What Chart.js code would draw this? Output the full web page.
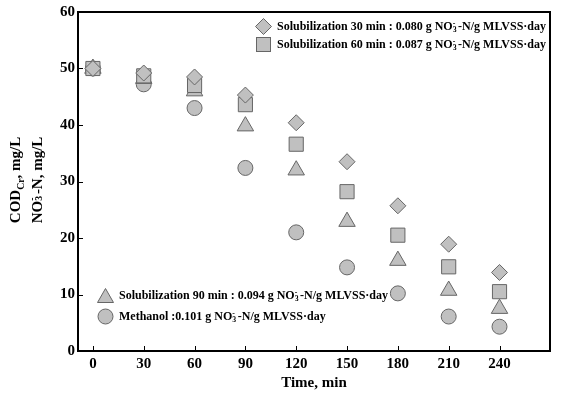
<!DOCTYPE html>
<html>
<head>
<meta charset="utf-8">
<script src="https://cdn.jsdelivr.net/npm/chart.js@4/dist/chart.umd.min.js"></script>
<style>
    body { margin: 0; background: #fff; }
    #wrap { position: relative; width: 561px; height: 396px; font-family: 'Liberation Serif', serif; font-weight: bold; color: #000; }
    #chart { position: absolute; left: 0; top: 0; }
    .ytitle {
        position: absolute; left: -74px; top: 158px; width: 200px; height: 44px;
        line-height: 22px; font-size: 15px; text-align: center; transform: rotate(-90deg);
    }
    .legend { position: absolute; font-size: 12px; white-space: nowrap; }
    .legend .row { display: flex; align-items: center; height: 18px; }
    .legend svg { margin-right: 5px; }
    sub { font-size: 0.65em; line-height: 0; }
    .ion { display: inline-block; position: relative; width: 0.45em; height: 1em; vertical-align: baseline; }
    .ion i, .ion b { position: absolute; left: 0; font-style: normal; font-size: 0.65em; line-height: 1; }
    .ion b { top: 0.05em; }
    .ion i { top: 0.75em; }
</style>
</head>
<body>
<div id="wrap">
    <canvas id="chart" width="561" height="396"></canvas>
    <div class="ytitle">COD<sub>Cr</sub>, mg/L<br>NO<span class="ion"><b>-</b><i>3</i></span>-N, mg/L</div>
    <div class="legend" style="left:255px; top:17px;">
        <div class="row"><svg width="17" height="17"><path d="M8.5 0.5 L16.5 8.5 L8.5 16.5 L0.5 8.5 Z" fill="#c0c0c0" stroke="#666"/></svg>Solubilization 30 min : 0.080 g NO<span class="ion"><b>-</b><i>3</i></span>-N/g MLVSS·day</div>
        <div class="row"><svg width="17" height="17"><rect x="1.5" y="1.5" width="14" height="14" fill="#c0c0c0" stroke="#666"/></svg>Solubilization 60 min : 0.087 g NO<span class="ion"><b>-</b><i>3</i></span>-N/g MLVSS·day</div>
    </div>
    <div class="legend" style="left:97px; top:286px;">
        <div class="row"><svg width="17" height="17"><path d="M8.5 1.5 L16.5 15.5 L0.5 15.5 Z" fill="#c0c0c0" stroke="#666"/></svg>Solubilization 90 min : 0.094 g NO<span class="ion"><b>-</b><i>3</i></span>-N/g MLVSS·day</div>
        <div class="row" style="margin-top:3px;"><svg width="17" height="17"><circle cx="8.5" cy="8.5" r="7.5" fill="#c0c0c0" stroke="#666"/></svg>Methanol :0.101 g NO<span class="ion"><b>-</b><i>3</i></span>-N/g MLVSS·day</div>
    </div>
</div>
<script>
// sampling times (min)
const minutes = [0, 30, 60, 90, 120, 150, 180, 210, 240];

// NO3-N, mg/L
const solub30 = [50.0, 49.2, 48.5, 45.3, 40.4, 33.5, 25.7, 18.9, 13.9];
const solub60 = [50.0, 48.7, 47.0, 43.6, 36.6, 28.2, 20.5, 14.9, 10.5];
const solub90 = [50.0, 48.2, 46.0, 39.8, 32.0, 22.9, 16.0, 10.7, 7.5];
const methanol = [50.0, 47.2, 43.0, 32.4, 21.0, 14.8, 10.2, 6.1, 4.3];

const xTicks = [0, 30, 60, 90, 120, 150, 180, 210, 240];
const yTicks = [0, 10, 20, 30, 40, 50, 60];

const fill = '#c0c0c0';
const edge = '#666666';
const tickFont = { family: 'Liberation Serif', size: 15, weight: 'bold' };

const toPoints = (ys) => ys.map((y, i) => ({ x: minutes[i], y: y }));

const series = (label, ys, style, radius) => ({
    label: label,
    data: toPoints(ys),
    pointStyle: style,
    pointRadius: radius,
    pointHoverRadius: radius,
    backgroundColor: fill,
    borderColor: edge,
    borderWidth: 1,
    showLine: false
});

// frame + inward ticks
const frame = {
    id: 'frame',
    afterDraw(chart) {
        const ctx = chart.ctx;
        const a = chart.chartArea;
        const xs = chart.scales.x, ys = chart.scales.y;
        ctx.save();
        ctx.strokeStyle = '#000';
        ctx.lineWidth = 1;
        xs.ticks.forEach((t) => {
            const px = Math.round(xs.getPixelForValue(t.value)) + 0.5;
            ctx.beginPath(); ctx.moveTo(px, a.bottom); ctx.lineTo(px, a.bottom - 5); ctx.stroke();
        });
        ys.ticks.forEach((t) => {
            const py = Math.round(ys.getPixelForValue(t.value)) + 0.5;
            ctx.beginPath(); ctx.moveTo(a.left, py); ctx.lineTo(a.left + 5, py); ctx.stroke();
        });
        ctx.lineWidth = 2;
        ctx.strokeRect(a.left, a.top, a.right - a.left, a.bottom - a.top);
        ctx.restore();
    }
};

new Chart(document.getElementById('chart'), {
    type: 'scatter',
    data: {
        datasets: [
            series('Solubilization 30 min', solub30, 'rectRot', 8),
            series('Solubilization 60 min', solub60, 'rect', 10),
            series('Solubilization 90 min', solub90, 'triangle', 9.5),
            series('Methanol', methanol, 'circle', 7.5)
        ]
    },
    options: {
        responsive: false,
        animation: false,
        layout: { padding: { top: 8, right: 6, left: 0, bottom: 0 } },
        scales: {
            x: {
                type: 'linear',
                min: -8.8,
                max: 269.8,
                afterBuildTicks: (s) => { s.ticks = xTicks.map((v) => ({ value: v })); },
                afterFit: (s) => { s.height = 45; },
                grid: { display: false, drawTicks: false },
                border: { display: false },
                ticks: { font: tickFont, color: '#000', padding: 4, maxRotation: 0, autoSkip: false },
                title: { display: true, text: 'Time, min', font: tickFont, color: '#000' }
            },
            y: {
                min: 0,
                max: 60,
                afterBuildTicks: (s) => { s.ticks = yTicks.map((v) => ({ value: v })); },
                afterFit: (s) => { s.width = 78; },
                grid: { display: false, drawTicks: false },
                border: { display: false },
                ticks: { font: tickFont, color: '#000', padding: 3 }
            }
        },
        plugins: {
            legend: { display: false },
            tooltip: { enabled: false }
        }
    },
    plugins: [frame]
});
</script>
</body>
</html>
